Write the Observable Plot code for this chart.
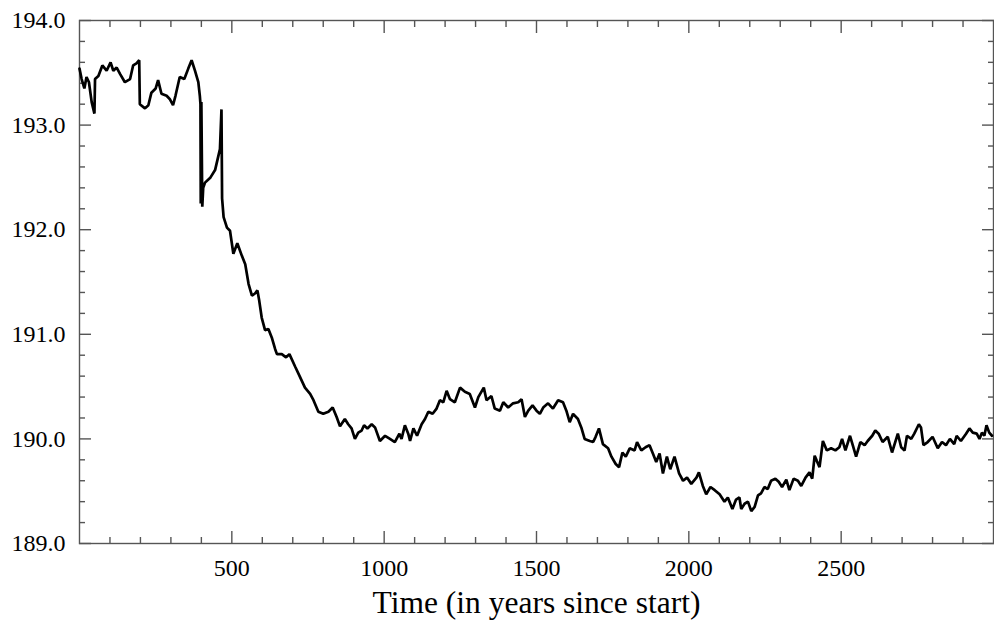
<!DOCTYPE html>
<html><head><meta charset="utf-8">
<script src="https://cdn.jsdelivr.net/npm/d3@7"></script>
<script src="https://cdn.jsdelivr.net/npm/@observablehq/plot@0.6"></script>
<style>body{margin:0;background:#fff}</style>
</head><body><div id="chart"></div>
<script>
// Time (years since start)
const years = [0,7,16,23,31,40,49,51,62,75,89,102,111,122,133,149,166,176,187,196,198,215,226,236,250,258,269,286,296,307,315,329,344,357,368,379,390,395,397,398,400,403,406,412,430,445,461,466,468,473,484,494,505,518,533,544,555,566,576,584,590,598,609,620,631,642,648,664,678,689,708,724,740,757,768,784,800,817,831,844,855,871,882,893,904,915,926,934,945,959,970,986,1003,1019,1035,1050,1057,1068,1079,1085,1096,1108,1123,1134,1145,1159,1172,1183,1194,1205,1216,1232,1249,1265,1281,1298,1309,1327,1336,1352,1363,1380,1391,1407,1423,1440,1451,1462,1473,1487,1500,1511,1522,1538,1554,1571,1587,1598,1609,1620,1636,1647,1658,1675,1686,1694,1705,1718,1735,1746,1760,1771,1782,1793,1806,1822,1830,1844,1858,1871,1882,1893,1904,1915,1928,1939,1953,1968,1981,1994,2008,2025,2033,2046,2057,2071,2085,2101,2117,2128,2143,2155,2166,2172,2183,2194,2205,2216,2227,2237,2248,2259,2270,2284,2295,2306,2320,2330,2344,2358,2369,2383,2396,2405,2413,2420,2429,2440,2453,2467,2481,2494,2503,2514,2529,2538,2549,2563,2577,2587,2602,2612,2623,2636,2653,2667,2686,2697,2708,2716,2730,2740,2755,2762,2770,2784,2800,2817,2831,2844,2857,2871,2879,2893,2910,2921,2932,2945,2954,2962,2970,2977,2986,2995];
// Series value
const values = [193.54,193.44,193.35,193.46,193.41,193.22,193.11,193.44,193.47,193.57,193.52,193.60,193.52,193.55,193.49,193.41,193.44,193.57,193.59,193.62,193.20,193.16,193.19,193.31,193.35,193.43,193.30,193.28,193.25,193.19,193.28,193.46,193.44,193.54,193.62,193.52,193.41,193.28,193.20,192.25,193.22,192.22,192.40,192.45,192.50,192.57,192.77,193.15,192.30,192.12,192.02,191.99,191.77,191.87,191.75,191.67,191.48,191.37,191.39,191.42,191.32,191.16,191.04,191.05,190.97,190.86,190.81,190.81,190.78,190.81,190.69,190.59,190.49,190.43,190.37,190.26,190.24,190.26,190.30,190.21,190.12,190.19,190.14,190.10,190.00,190.06,190.08,190.13,190.10,190.14,190.11,189.98,190.03,190.00,189.97,190.05,190.00,190.13,190.05,189.98,190.10,190.03,190.14,190.19,190.26,190.24,190.29,190.37,190.35,190.46,190.38,190.35,190.49,190.45,190.43,190.30,190.40,190.49,190.37,190.41,190.29,190.27,190.35,190.30,190.34,190.35,190.38,190.21,190.27,190.32,190.27,190.24,190.30,190.34,190.29,190.37,190.35,190.27,190.16,190.24,190.19,190.11,190.00,189.98,189.97,190.02,190.10,189.95,189.91,189.83,189.76,189.73,189.87,189.83,189.91,189.89,189.97,189.89,189.92,189.94,189.86,189.78,189.86,189.67,189.83,189.71,189.83,189.67,189.60,189.63,189.57,189.63,189.68,189.55,189.47,189.54,189.51,189.47,189.40,189.44,189.33,189.42,189.44,189.33,189.38,189.40,189.31,189.35,189.46,189.48,189.54,189.52,189.60,189.62,189.59,189.54,189.61,189.51,189.62,189.60,189.55,189.63,189.68,189.62,189.84,189.79,189.73,189.98,189.89,189.91,189.89,189.92,190.00,189.89,190.03,189.94,189.83,189.97,189.94,189.98,190.03,190.08,190.05,189.97,190.02,189.87,190.05,189.92,189.89,190.03,190.00,190.05,190.14,190.11,189.94,189.97,190.02,189.91,189.97,189.94,190.00,189.95,190.03,189.98,190.05,190.10,190.06,190.05,190.00,190.06,190.03,190.13,190.06,190.03];

const xMajorTicks = [500, 1000, 1500, 2000, 2500];
const xMinorTicks = [100,200,300,400,600,700,800,900,1100,1200,1300,1400,1600,1700,1800,1900,2100,2200,2300,2400,2600,2700,2800,2900];
const yMajorTicks = [189, 190, 191, 192, 193, 194];
const yMinorTicks = [189.2,189.4,189.6,189.8,190.2,190.4,190.6,190.8,191.2,191.4,191.6,191.8,192.2,192.4,192.6,192.8,193.2,193.4,193.6,193.8];
const xLabel = "Time (in years since start)";

const data = years.map((t, i) => ({t, v: values[i]}));
const axisColor = "#555";
const tk = {fill: "none", stroke: axisColor, strokeWidth: 1.4, label: null};

const chart = Plot.plot({
  width: 994,
  height: 625,
  marginLeft: 79,
  marginRight: 1,
  marginTop: 20,
  marginBottom: 82,
  style: {fontFamily: "'Liberation Serif', 'Times New Roman', serif", background: "#fff", color: "#000"},
  x: {domain: [0, 3000]},
  y: {domain: [189, 194]},
  marks: [
    // inward ticks on all four sides
    Plot.axisX(xMajorTicks, {...tk, anchor: "bottom", tickSize: 12, insetBottom: 12}),
    Plot.axisX(xMinorTicks, {...tk, anchor: "bottom", tickSize: 6, insetBottom: 6}),
    Plot.axisX(xMajorTicks, {...tk, anchor: "top", tickSize: 12, insetTop: 12}),
    Plot.axisX(xMinorTicks, {...tk, anchor: "top", tickSize: 6, insetTop: 6}),
    Plot.axisY(yMajorTicks, {...tk, anchor: "left", tickSize: 12, insetLeft: 12}),
    Plot.axisY(yMinorTicks, {...tk, anchor: "left", tickSize: 6, insetLeft: 6}),
    Plot.axisY(yMajorTicks, {...tk, anchor: "right", tickSize: 12, insetRight: 12}),
    Plot.axisY(yMinorTicks, {...tk, anchor: "right", tickSize: 6, insetRight: 6}),
    // tick labels
    Plot.axisX(xMajorTicks, {anchor: "bottom", tickSize: 0, tickPadding: 15, tickFormat: d3.format("d"), fontSize: 24, fill: "#000", label: null}),
    Plot.axisY(yMajorTicks, {anchor: "left", tickSize: 0, tickPadding: 14, tickFormat: d3.format(".1f"), fontSize: 24, fill: "#000", label: null}),
    Plot.frame({stroke: axisColor, strokeWidth: 1.4}),
    Plot.line(data, {x: "t", y: "v", stroke: "#000", strokeWidth: 2.7, strokeLinejoin: "miter"}),
    Plot.text([xLabel], {frameAnchor: "bottom", dy: 69, fontSize: 31.5, fill: "#000"})
  ]
});
document.getElementById("chart").append(chart);
</script>
</body></html>
